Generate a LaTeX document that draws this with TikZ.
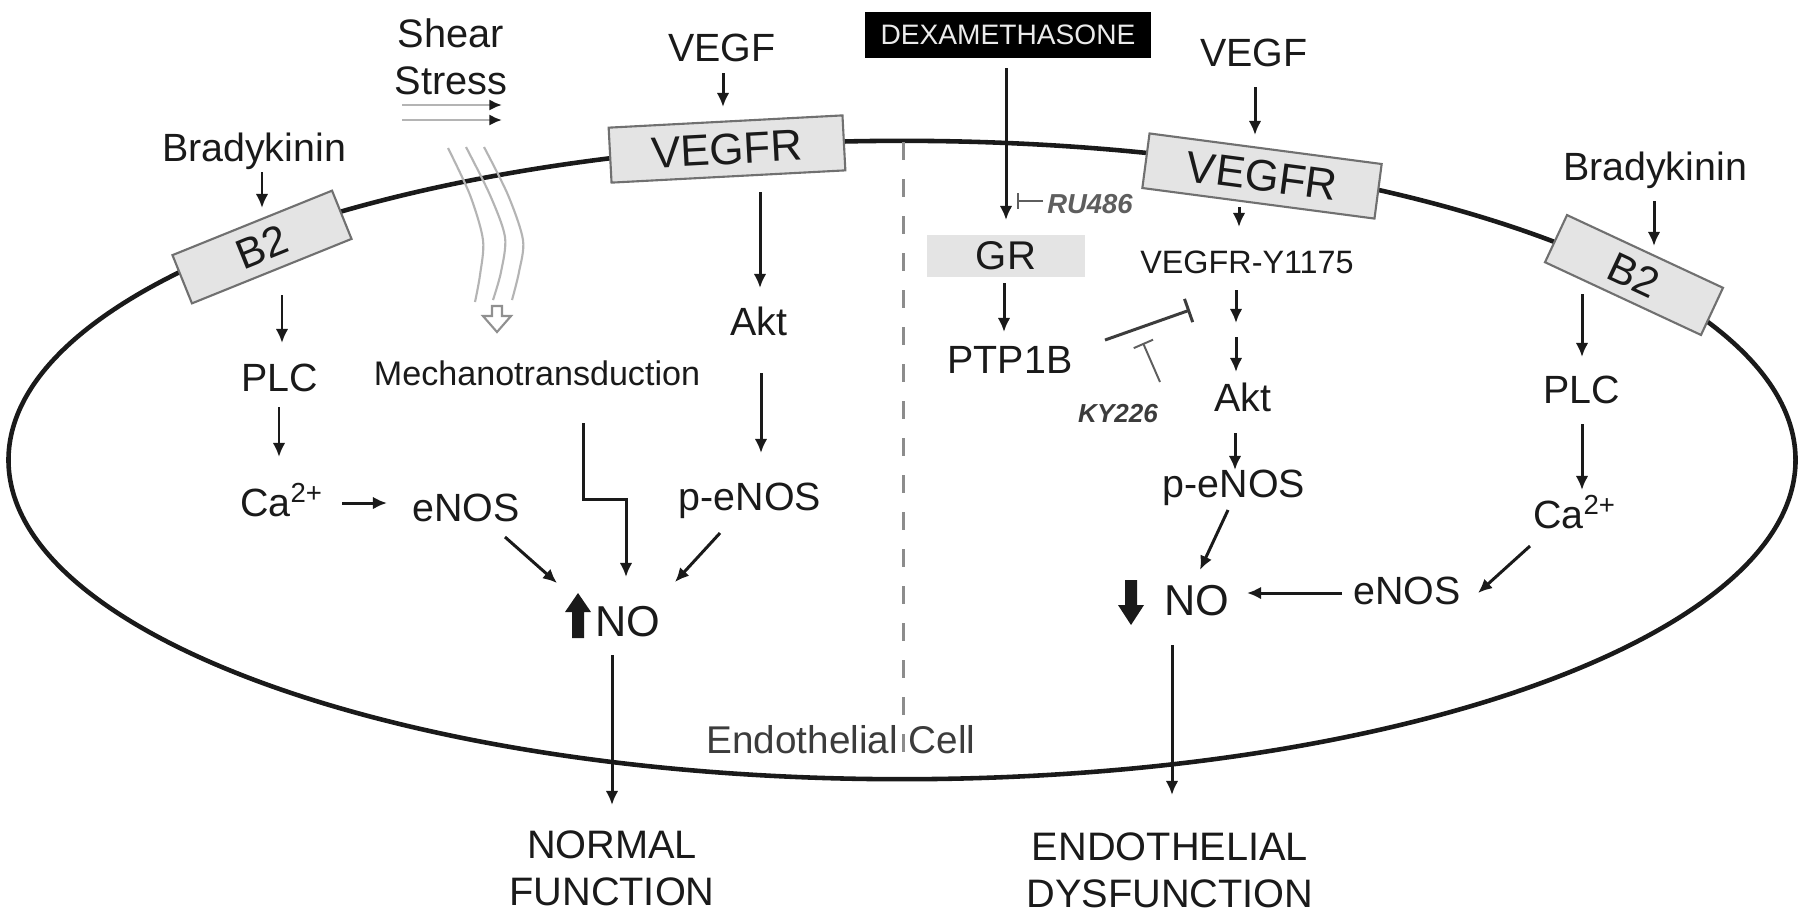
\documentclass[tikz,border=0pt]{standalone}
\usepackage{fontspec}
\setmainfont{Liberation Sans}
\usetikzlibrary{arrows.meta,calc}
\definecolor{boxfill}{HTML}{E4E4E4}
\definecolor{boxline}{HTML}{707070}
\definecolor{ink}{HTML}{1A1A1A}
\definecolor{shearc}{HTML}{B4B4B4}
\definecolor{divider}{HTML}{8C8C8C}
\definecolor{inhgray}{HTML}{5E5E5E}
\newcommand{\fsz}[1]{\fontsize{#1}{13.4pt}\selectfont}
\begin{document}
\begin{tikzpicture}[x=0.01cm,y=-0.01cm,
  lbl/.style={inner sep=0pt, text=ink, font=\fsz{11.2}, text height=7.7pt, text depth=0pt},
  multi/.style={inner sep=0pt, text=ink, font=\fsz{11.3}, align=center},
  rbox/.style={draw=boxline, fill=boxfill, line width=0.6pt, inner sep=0pt, text=ink},
  arr/.style={draw=ink, line width=0.85pt, -{Latex[length=4pt,width=3.6pt]}},
  inh/.style={draw=ink!85, line width=0.85pt, -{Bar[width=7pt,line width=0.85pt]}},
  ]
\fill[white] (0,0) rectangle (1800,917);
\useasboundingbox (0,0) rectangle (1800,917);

% cell membrane
\draw[line width=1.3pt, ink] (902,460) ellipse [x radius=8.93cm, y radius=3.19cm];
\coordinate (divTop) at (903,142);
\coordinate (divBot) at (903,763);
\draw[divider, line width=0.85pt, dash pattern=on 1.8mm off 1.9mm] (divTop) -- (divBot);

% ---------- left half ----------
\node[lbl] (bkL) at (254,148) {Bradykinin};
\node[rbox, rotate=22, minimum width=1.72cm, minimum height=0.52cm, font=\fsz{12}] (b2L) at (262,247) {B2};
\node[lbl] (plcL) at (280,378) {PLC};
\node[lbl] (caL) at (282,503) {Ca\textsuperscript{2+}};
\node[lbl] (enosL) at (466,508) {eNOS};
\node[lbl, font=\fsz{9.7}, text height=6.6pt] (mech) at (537,374) {Mechanotransduction};
\node[lbl] (vegfL) at (722,48) {VEGF};
\node[rbox, rotate=3, minimum width=2.34cm, minimum height=0.55cm, font=\fsz{12.5}] (vegfrL) at (727,149) {VEGFR};
\node[lbl] (aktL) at (759,322) {Akt};
\node[lbl] (penosL) at (750,497) {p-eNOS};
\node[lbl, font=\fsz{12.3}, text height=8.5pt] (noL) at (628,622) {NO};
\node[multi] (normal) at (612,868) {NORMAL\\FUNCTION};
\node[multi] (shearT) at (451,57) {Shear\\Stress};
\node[lbl, font=\fsz{11}, text=ink!85] (cell) at (841,740) {Endothelial Cell};

% shear stress arrows
\draw[shearc, line width=0.8pt, -{Latex[color=ink,length=3.6pt,width=3.2pt]}] ($(shearT)+(-49,48)$) -- ($(shearT)+(51,48)$);
\draw[shearc, line width=0.8pt, -{Latex[color=ink,length=3.6pt,width=3.2pt]}] ($(shearT)+(-49,63)$) -- ($(shearT)+(51,63)$);
% shear flow lines
\draw[shearc, line width=0.6pt] plot[smooth] coordinates {(448,148) (470,195) (483,240) (480,275) (475,302)};
\draw[shearc, line width=0.6pt] plot[smooth] coordinates {(466,147) (490,195) (505,237) (501,272) (493,300)};
\draw[shearc, line width=0.6pt] plot[smooth] coordinates {(484,147) (508,195) (523,240) (519,272) (512,300)};
\draw[shearc!80!black, fill=white, line width=0.6pt] (492,306) -- (502,306) -- (502,316) -- (511,316) -- (497,332) -- (483,316) -- (492,316) -- cycle;

% up arrow
\fill[ink] (578,593) -- (591,612) -- (584,612) -- (584,638) -- (572,638) -- (572,612) -- (565,612) -- cycle;

\draw[arr] ($(bkL)+(8,24)$) -- ($(b2L)+(0,-39)$);
\draw[arr] ($(vegfL)+(1,25)$) -- ($(vegfrL)+(-4,-42)$);
\draw[arr] ($(vegfrL)+(33,43)$) -- ($(aktL)+(1,-34)$);
\draw[arr] ($(aktL)+(2,51)$) -- ($(penosL)+(11,-44)$);
\draw[arr] ($(b2L)+(20,48)$) -- ($(plcL)+(2,-35)$);
\draw[arr] ($(plcL)+(-1,29)$) -- ($(caL)+(-3,-46)$);
\draw[arr] ($(caL)+(60,0)$) -- ($(enosL)+(-79,-5)$);
\draw[arr] ($(enosL)+(39,29)$) -- ($(noL)+(-71,-39)$);
\draw[arr] ($(penosL)+(-30,36)$) -- ($(noL)+(47,-40)$);
\draw[arr] ($(mech)+(46,49)$) -- ++(0,76) -- ++(43,0) -- ($(noL)+(-2,-45)$);
\draw[arr] ($(noL)+(-16,33)$) -- ($(normal)+(0,-63)$);

% ---------- right half ----------
\node[fill=black, text=white!92!black, font=\fsz{8}, minimum width=2.86cm, minimum height=0.46cm, inner sep=0pt] (dex) at (1008,35) {DEXAMETHASONE};
\node[fill=boxfill, minimum width=1.57cm, minimum height=0.42cm, inner sep=0pt, font=\fsz{11.4}, text=ink] (gr) at (1006,256) {GR};
\node[lbl, font=\fsz{7.8}\itshape\bfseries, text=inhgray] (ru) at (1090,200) {RU486};
\node[lbl] (ptp) at (1010,360) {PTP1B};
\node[lbl, font=\fsz{7.4}\itshape\bfseries, text=ink!85] (ky) at (1118,409) {KY226};
\node[lbl] (vegfR) at (1254,53) {VEGF};
\node[rbox, rotate=-7.5, minimum width=2.34cm, minimum height=0.55cm, font=\fsz{12.5}] (vegfrR) at (1262,176) {VEGFR};
\node[lbl, font=\fsz{9.2}, text height=6.3pt] (y1175) at (1247,262) {VEGFR-Y1175};
\node[lbl] (aktR) at (1243,398) {Akt};
\node[lbl] (penosR) at (1234,484) {p-eNOS};
\node[lbl, font=\fsz{12.3}, text height=8.5pt] (noR) at (1197,601) {NO};
\node[lbl] (enosR) at (1407,591) {eNOS};
\node[lbl] (bkR) at (1655,167) {Bradykinin};
\node[rbox, rotate=-25, minimum width=1.72cm, minimum height=0.52cm, font=\fsz{12}] (b2R) at (1634,275) {B2};
\node[lbl] (plcR) at (1582,390) {PLC};
\node[lbl] (caR) at (1575,515) {Ca\textsuperscript{2+}};
\node[multi] (endoDys) at (1170,870) {ENDOTHELIAL\\DYSFUNCTION};

% down arrow
\fill[ink] (1131,625) -- (1144,605) -- (1137,605) -- (1137,580) -- (1125,580) -- (1125,605) -- (1118,605) -- cycle;

\draw[arr] ($(dex)+(-2,33)$) -- ($(gr)+(0,-36)$);
\draw[inhgray, line width=0.55pt, -{Bar[width=4.5pt,line width=0.55pt]}] ($(ru)+(-47,1)$) -- ($(ru)+(-73,1)$);
\draw[arr] ($(gr)+(-2,27)$) -- ($(ptp)+(-6,-28)$);
\draw[inh] ($(ptp)+(95,-20)$) -- ($(y1175)+(-57,48)$);
\draw[inhgray, line width=0.55pt, -{Bar[width=6pt,line width=0.55pt]}] ($(ky)+(42,-27)$) -- ($(ky)+(25,-66)$);
\draw[arr] ($(vegfR)+(1,34)$) -- ($(vegfrR)+(-7,-41)$);
\draw[arr] ($(vegfrR)+(-23,31)$) -- ($(y1175)+(-8,-35)$);
\draw[arr] ($(y1175)+(-11,28)$) -- ($(aktR)+(-7,-75)$);
\draw[arr] ($(aktR)+(-7,-61)$) -- ($(aktR)+(-7,-26)$);
\draw[arr] ($(aktR)+(-8,35)$) -- ($(penosR)+(1,-14)$);
\draw[arr] ($(penosR)+(-6,26)$) -- ($(noR)+(3,-31)$);
\draw[arr] ($(enosR)+(-65,2)$) -- ($(noR)+(50,-8)$);
\draw[arr] ($(noR)+(-25,44)$) -- ($(endoDys)+(2,-75)$);
\draw[arr] ($(bkR)+(-1,34)$) -- ($(b2R)+(20,-29)$);
\draw[arr] ($(b2R)+(-52,19)$) -- ($(plcR)+(0,-33)$);
\draw[arr] ($(plcR)+(0,34)$) -- ($(caR)+(7,-25)$);
\draw[arr] ($(caR)+(-45,31)$) -- ($(enosR)+(71,2)$);
\end{tikzpicture}
\end{document}
